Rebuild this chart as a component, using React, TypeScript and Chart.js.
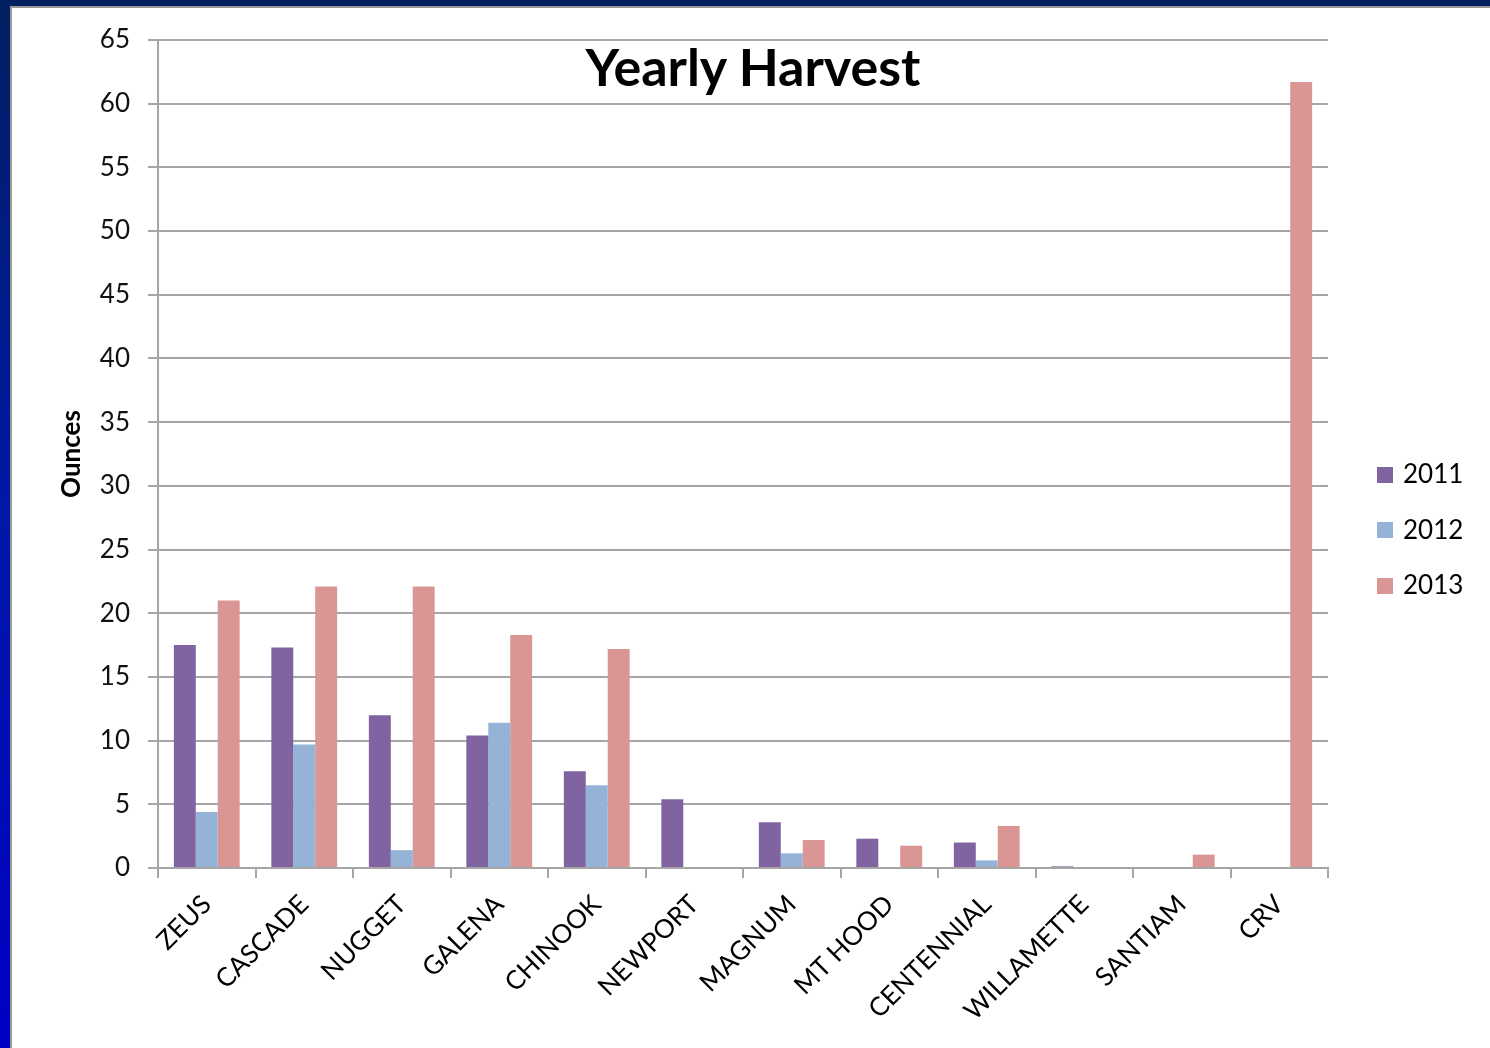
import React, { useEffect, useRef } from 'react';
import { Chart, registerables } from 'chart.js';

Chart.register(...registerables);

const categories = ['ZEUS', 'CASCADE', 'NUGGET', 'GALENA', 'CHINOOK', 'NEWPORT', 'MAGNUM', 'MT HOOD', 'CENTENNIAL', 'WILLAMETTE', 'SANTIAM', 'CRV'];
const values2011 = [17.5, 17.3, 12.0, 10.4, 7.6, 5.4, 3.6, 2.3, 2.0, 0.13, 0, 0];
const values2012 = [4.4, 9.7, 1.4, 11.4, 6.5, 0, 1.15, 0, 0.6, 0, 0, 0];
const values2013 = [21.0, 22.1, 22.1, 18.3, 17.2, 0, 2.2, 1.75, 3.3, 0, 1.05, 61.7];
const seriesLabels = ['2011', '2012', '2013'];
const seriesColors = ['#8064A2', '#95B3D7', '#D99694'];
const yMin = 0;
const yMax = 65;
const yStep = 5;
const chartTitle = 'Yearly Harvest';
const yTitle = 'Ounces';

const FONT = 'Lato';
const GRID = '#a6a6a6';

export default function App() {
  const ref = useRef<HTMLCanvasElement>(null);

  useEffect(() => {
    let chart: Chart | null = null;
    let cancelled = false;
    const build = () => {
      if (cancelled || !ref.current) return;
      const seriesValues = [values2011, values2012, values2013];
      chart = new Chart(ref.current, {
        type: 'bar',
        data: {
          labels: categories,
          datasets: seriesLabels.map((label, i) => ({
            label,
            data: seriesValues[i],
            backgroundColor: seriesColors[i],
            borderWidth: 0,
            categoryPercentage: 0.675,
            barPercentage: 1,
          })),
        },
        options: {
          responsive: false,
          animation: false,
          layout: { padding: { top: 40, right: 162, bottom: 0, left: 0 } },
          plugins: {
            legend: { display: false },
            tooltip: { enabled: false },
            title: { display: false },
          },
          scales: {
            x: {
              grid: { offset: true, drawOnChartArea: false, drawTicks: true, tickLength: 10, color: GRID, lineWidth: 2 },
              border: { color: GRID, width: 2 },
              ticks: {
                autoSkip: false,
                maxRotation: 45,
                minRotation: 45,
                color: '#000',
                font: { family: FONT, size: 26 },
                padding: 11,
              },
              afterFit: (s: any) => { s.height = 180; },
            },
            y: {
              min: yMin,
              max: yMax,
              ticks: { stepSize: yStep, color: '#111', font: { family: FONT, size: 26 }, padding: 18 },
              grid: { color: GRID, lineWidth: 2, tickLength: 10 },
              border: { color: GRID, width: 2 },
              title: {
                display: true,
                text: yTitle,
                color: '#000',
                font: { family: FONT, size: 26, weight: 'bold' },
                padding: { top: 56, bottom: 0 },
              },
              afterFit: (s: any) => { s.width = 158; },
            },
          },
        },
      });
    };
    const fontsApi = (document as any).fonts;
    if (fontsApi && fontsApi.load) {
      Promise.all([
        fontsApi.load(`26px ${FONT}`),
        fontsApi.load(`bold 26px ${FONT}`),
      ]).then(build, build);
    } else {
      build();
    }
    return () => {
      cancelled = true;
      if (chart) chart.destroy();
    };
  }, []);

  const legendTops = [461, 516.5, 572];

  return (
    <div style={{ position: 'fixed', left: 0, top: 0, width: 1490, height: 1048, background: '#ffffff', overflow: 'hidden' }}>
      <div style={{ position: 'absolute', left: 0, top: 0, width: 1490, height: 6, background: '#002060' }} />
      <div style={{ position: 'absolute', left: 10, top: 6, width: 1480, height: 2, background: '#9a9a9a' }} />
      <div style={{ position: 'absolute', left: 0, top: 0, width: 10, height: 1048, background: 'linear-gradient(to bottom, #002060 0%, #0018a8 50%, #0000c4 100%)' }} />
      <div style={{ position: 'absolute', left: 10, top: 6, width: 2, height: 1042, background: '#9a9a9a' }} />
      <canvas ref={ref} width={1490} height={1048} style={{ position: 'absolute', left: 0, top: 0, display: 'block', width: 1490, height: 1048 }} />
      <div style={{ position: 'absolute', left: 453, top: 40, width: 600, textAlign: 'center', fontFamily: FONT, fontWeight: 'bold', fontSize: 52, lineHeight: '52px', color: '#000' }}>
        {chartTitle}
      </div>
      {seriesLabels.map((label, i) => (
        <div key={label} style={{ position: 'absolute', left: 1377, top: legendTops[i], height: 25, display: 'flex', alignItems: 'center' }}>
          <div style={{ width: 16, height: 16, background: seriesColors[i], marginRight: 10, marginTop: 2 }} />
          <span style={{ fontFamily: FONT, fontSize: 26, lineHeight: '25px', color: '#000' }}>{label}</span>
        </div>
      ))}
    </div>
  );
}
